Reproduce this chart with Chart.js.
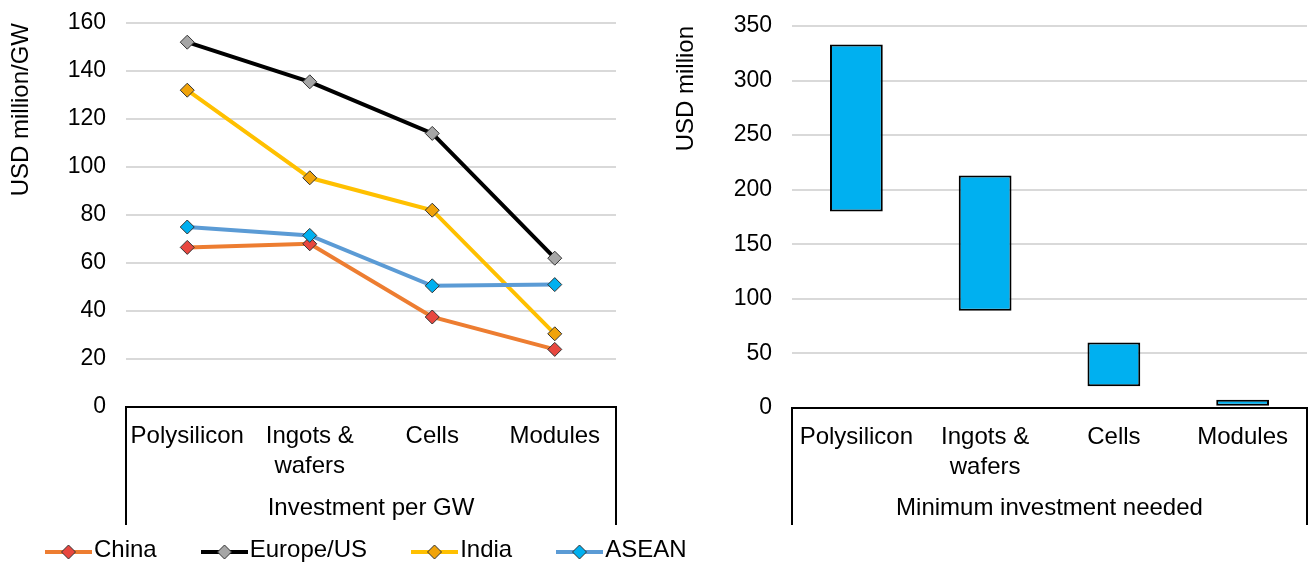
<!DOCTYPE html>
<html>
<head>
<meta charset="utf-8">
<script src="https://cdn.jsdelivr.net/npm/chart.js@4.4.0/dist/chart.umd.min.js"></script>
<style>
    body { margin: 0; background: #fff; font-family: "Liberation Sans", Arial, sans-serif; }
    #wrap { position: relative; width: 1308px; height: 566px; overflow: hidden; }
    #leftChart { position: absolute; left: 0; top: 0; }
    #rightChart { position: absolute; left: 660px; top: 0; }
    #legend { position: absolute; left: 45px; top: 534px; display: flex; gap: 44px; font-size: 24px; line-height: 30px; color: #000; }
    .item { display: flex; align-items: center; }
    .item canvas { margin-right: 2px; position: relative; top: 3px; }
</style>
</head>
<body>
<div id="wrap">
    <canvas id="leftChart" width="640" height="566"></canvas>
    <canvas id="rightChart" width="648" height="566"></canvas>
    <div id="legend"></div>
</div>
<script>
// Production stages (shared by both panels)
const stages = ['Polysilicon', ['Ingots &', 'wafers'], 'Cells', 'Modules'];

// Investment per GW, USD million/GW
const china = [66.5, 68, 37.5, 24];
const europeUS = [152, 135.5, 114, 62];
const india = [132, 95.5, 82, 30.5];
const asean = [75, 71.5, 50.5, 51];

// Minimum investment needed, USD million (low and high end of range)
const minLow = [180, 89, 20, 2];
const minHigh = [333, 213, 60, 7.5];

// Tick labels
const leftTicks = [0, 20, 40, 60, 80, 100, 120, 140, 160];
const rightTicks = [0, 50, 100, 150, 200, 250, 300, 350];

const series = [
    { name: 'China', data: china, line: '#ED7D31', marker: '#E8473F' },
    { name: 'Europe/US', data: europeUS, line: '#000000', marker: '#A6A6A6' },
    { name: 'India', data: india, line: '#FFC000', marker: '#F0A30A' },
    { name: 'ASEAN', data: asean, line: '#5B9BD5', marker: '#00B0F0' }
];

const FONT = '"Liberation Sans", Arial, sans-serif';

// Draws the axis line plus the vertical bracket lines round the category group
const bracketPlugin = {
    id: 'bracket',
    beforeDatasetsDraw(chart) {
        const { ctx, chartArea } = chart;
        const bottom = chart.scales.x.bottom;
        ctx.save();
        ctx.strokeStyle = '#000';
        ctx.lineWidth = 2;
        ctx.beginPath();
        ctx.moveTo(chartArea.left, bottom);
        ctx.lineTo(chartArea.left, chartArea.bottom);
        ctx.lineTo(chartArea.right, chartArea.bottom);
        ctx.lineTo(chartArea.right, bottom);
        ctx.stroke();
        ctx.restore();
    }
};

function xAxis(title, height) {
    return {
        offset: true,
        grid: { display: false },
        border: { display: false },
        ticks: { color: '#000', padding: 6, maxRotation: 0, autoSkip: false, font: { family: FONT, size: 24, lineHeight: 1.25 } },
        title: { display: true, text: title, color: '#000', padding: { top: 0, bottom: 2 }, font: { family: FONT, size: 24, lineHeight: 1.2 } },
        afterFit(scale) { scale.height = height; }
    };
}

function yAxis(ticks, title, width, titlePad) {
    return {
        min: ticks[0],
        max: ticks[ticks.length - 1],
        afterBuildTicks(scale) { scale.ticks = ticks.map(v => ({ value: v })); },
        // tick marks kept invisible; their length gives the gap before the labels
        grid: { color: '#D9D9D9', lineWidth: 2, drawTicks: true, tickLength: 20, tickColor: 'rgba(0,0,0,0)' },
        border: { display: false },
        ticks: { color: '#000', padding: 0, font: { family: FONT, size: 23, lineHeight: 1.2 } },
        title: { display: true, text: title, align: 'end', color: '#000', padding: { top: titlePad, bottom: 0 }, font: { family: FONT, size: 24, lineHeight: 1.2 } },
        afterFit(scale) { scale.width = width; }
    };
}

function buildLeftChart() {
    const ctx = document.getElementById('leftChart').getContext('2d');
    new Chart(ctx, {
        type: 'line',
        data: {
            labels: stages,
            datasets: series.map((s, i) => ({
                label: s.name,
                data: s.data,
                borderColor: s.line,
                borderWidth: 4,
                tension: 0,
                pointStyle: 'rectRot',
                pointRadius: 7,
                pointBackgroundColor: s.marker,
                pointBorderColor: '#333',
                pointBorderWidth: 1,
                order: series.length - i
            }))
        },
        options: {
            responsive: false,
            animation: false,
            layout: { padding: { left: 0, top: 23, right: 24, bottom: 41 } },
            plugins: { legend: { display: false }, tooltip: { enabled: false } },
            scales: {
                x: xAxis('Investment per GW', 118),
                y: yAxis(leftTicks, 'USD million/GW', 126, 7)
            }
        },
        plugins: [bracketPlugin]
    });
}

function buildRightChart() {
    const ctx = document.getElementById('rightChart').getContext('2d');
    new Chart(ctx, {
        type: 'bar',
        data: {
            labels: stages,
            datasets: [{
                label: 'Minimum investment needed',
                data: minLow.map((lo, i) => [lo, minHigh[i]]),
                backgroundColor: '#00B0F0',
                borderColor: '#000',
                borderWidth: 2,
                borderSkipped: false,
                categoryPercentage: 1,
                barPercentage: 0.41
            }]
        },
        options: {
            responsive: false,
            animation: false,
            layout: { padding: { left: 0, top: 26, right: 1, bottom: 41 } },
            plugins: { legend: { display: false }, tooltip: { enabled: false } },
            scales: {
                x: xAxis('Minimum investment needed', 117),
                y: yAxis(rightTicks, 'USD million', 132, 12)
            }
        },
        plugins: [bracketPlugin]
    });
}

// Legend below the left panel: line with diamond marker, then name
function buildLegend() {
    const box = document.getElementById('legend');
    series.forEach(s => {
        const item = document.createElement('div');
        item.className = 'item';
        const sw = document.createElement('canvas');
        sw.width = 47;
        sw.height = 18;
        const c = sw.getContext('2d');
        c.strokeStyle = s.line;
        c.lineWidth = 4;
        c.beginPath();
        c.moveTo(0, 9);
        c.lineTo(47, 9);
        c.stroke();
        c.beginPath();
        c.moveTo(23.5 - 7, 9);
        c.lineTo(23.5, 2);
        c.lineTo(23.5 + 7, 9);
        c.lineTo(23.5, 16);
        c.closePath();
        c.fillStyle = s.marker;
        c.fill();
        c.strokeStyle = '#333';
        c.lineWidth = 1;
        c.stroke();
        const label = document.createElement('span');
        label.textContent = s.name;
        item.appendChild(sw);
        item.appendChild(label);
        box.appendChild(item);
    });
}

document.addEventListener('DOMContentLoaded', () => {
    buildLeftChart();
    buildRightChart();
    buildLegend();
});
</script>
</body>
</html>
